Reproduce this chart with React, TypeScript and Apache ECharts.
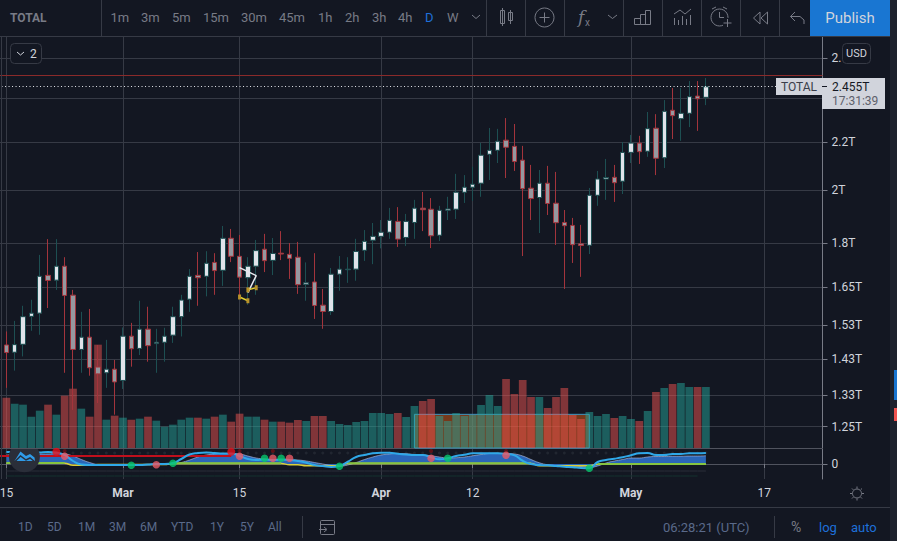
import React, { useEffect, useRef } from "react";
import * as echarts from "echarts";

// trading days on the axis, Feb 14 to May 24 2021
const monthDays: Array<[string, number, number]> = [["Feb", 14, 28], ["Mar", 1, 31], ["Apr", 1, 30], ["May", 1, 24]];
const categories: string[] = [];
monthDays.forEach(([m, from, to]) => {
  for (let d = from; d <= to; d++) categories.push(`${m} ${d}`);
});
const tickDates: Record<string, string> = {
  "Feb 15": "15", "Mar 1": "Mar", "Mar 15": "15", "Apr 1": "Apr", "Apr 12": "12", "May 1": "May", "May 17": "17",
};

// total market cap candles from Feb 15, in trillions
const opens = [
  1.470, 1.449, 1.472, 1.556, 1.566, 1.688, 1.672, 1.719, 1.623, 1.457, 1.493, 1.407, 1.391, 1.401, 1.370, 1.496, 1.460,
  1.517, 1.474, 1.478, 1.499, 1.555, 1.610, 1.688, 1.685, 1.732, 1.705, 1.817, 1.753, 1.680, 1.719, 1.778, 1.739, 1.764,
  1.760, 1.750, 1.658, 1.666, 1.591, 1.571, 1.692, 1.707, 1.709, 1.774, 1.810, 1.824, 1.839, 1.879, 1.820, 1.875, 1.929,
  1.925, 1.828, 1.921, 1.925, 1.991, 2.011, 2.027, 2.147, 2.164, 2.208, 2.181, 2.122, 2.007, 1.970, 2.027, 1.948, 1.875,
  1.864, 1.797, 1.792, 1.979, 2.044, 2.051, 2.035, 2.155, 2.195, 2.160, 2.261, 2.132, 2.343, 2.304, 2.329, 2.410, 2.404,
];
const closes = [
  1.448, 1.471, 1.555, 1.566, 1.685, 1.671, 1.719, 1.622, 1.457, 1.493, 1.405, 1.388, 1.401, 1.366, 1.496, 1.459, 1.517,
  1.468, 1.478, 1.496, 1.555, 1.607, 1.685, 1.680, 1.729, 1.704, 1.817, 1.753, 1.682, 1.719, 1.773, 1.738, 1.763, 1.761,
  1.746, 1.657, 1.663, 1.590, 1.571, 1.692, 1.709, 1.709, 1.770, 1.806, 1.824, 1.839, 1.883, 1.814, 1.879, 1.929, 1.923,
  1.826, 1.921, 1.926, 1.991, 2.011, 2.023, 2.143, 2.164, 2.203, 2.177, 2.116, 2.005, 1.966, 2.027, 1.947, 1.874, 1.863,
  1.794, 1.791, 1.979, 2.044, 2.050, 2.029, 2.155, 2.195, 2.158, 2.259, 2.130, 2.338, 2.318, 2.329, 2.407, 2.397, 2.455,
];
const lows = [
  1.350, 1.397, 1.437, 1.512, 1.500, 1.582, 1.640, 1.391, 1.292, 1.391, 1.383, 1.310, 1.350, 1.280, 1.347, 1.408, 1.441,
  1.422, 1.391, 1.422, 1.476, 1.495, 1.570, 1.589, 1.619, 1.624, 1.653, 1.733, 1.614, 1.592, 1.624, 1.699, 1.689, 1.740,
  1.676, 1.627, 1.605, 1.548, 1.518, 1.560, 1.637, 1.663, 1.670, 1.737, 1.726, 1.781, 1.815, 1.786, 1.789, 1.815, 1.843,
  1.782, 1.807, 1.884, 1.888, 1.949, 1.957, 1.973, 2.040, 2.110, 2.048, 2.077, 1.754, 1.884, 1.836, 1.903, 1.793, 1.643,
  1.730, 1.683, 1.761, 1.938, 1.961, 1.953, 1.984, 2.110, 2.106, 2.136, 2.060, 2.089, 2.213, 2.205, 2.266, 2.249, 2.367,
];
const highs = [
  1.510, 1.542, 1.589, 1.608, 1.758, 1.814, 1.814, 1.750, 1.640, 1.570, 1.579, 1.470, 1.485, 1.427, 1.522, 1.536, 1.605,
  1.586, 1.518, 1.521, 1.586, 1.624, 1.709, 1.768, 1.771, 1.764, 1.862, 1.851, 1.829, 1.750, 1.811, 1.833, 1.818, 1.843,
  1.800, 1.804, 1.732, 1.764, 1.643, 1.713, 1.754, 1.750, 1.815, 1.847, 1.873, 1.884, 1.930, 1.933, 1.907, 1.961, 1.992,
  1.968, 1.938, 1.973, 2.065, 2.060, 2.094, 2.196, 2.262, 2.258, 2.307, 2.280, 2.183, 2.102, 2.081, 2.098, 2.073, 1.922,
  1.892, 1.866, 2.008, 2.077, 2.127, 2.102, 2.200, 2.231, 2.227, 2.335, 2.325, 2.391, 2.449, 2.449, 2.483, 2.483, 2.498,
];
// volume, in billions
const volumes = [
  151, 133, 130, 94, 112, 130, 100, 157, 178, 118, 94, 310, 85, 97, 91, 85, 88, 94, 82, 64, 70, 85, 91, 91, 88, 94, 100, 79,
  103, 94, 94, 85, 79, 79, 76, 84, 81, 96, 96, 81, 72, 69, 78, 81, 105, 105, 102, 105, 93, 126, 141, 147, 96, 81, 105, 96,
  99, 129, 159, 126, 207, 162, 204, 153, 153, 120, 153, 180, 99, 87, 108, 96, 102, 90, 96, 87, 81, 111, 168, 180, 192, 195,
  183, 183, 183,
];
// oscillator pane
const fastWave = [
  48, 48, 44, 44, 46, 48, 46, 36, 12, -2, -4, -4, -4, -4, -4, -4, -4, -2, 0, 0, 4, 20, 38, 44, 46, 44, 42, 42, 32, 20, 16, 18,
  16, 18, 16, 12, 5, -4, -8, -12, -8, 9, 28, 36, 43, 45, 45, 41, 38, 36, 36, 27, 19, 23, 32, 37, 43, 43, 43, 43, 40, 35, 13, 0,
  -4, -5, -8, -11, -13, -16, -17, 8, 16, 21, 27, 35, 43, 44, 36, 36, 40, 40, 43, 43, 44,
];
const slowWave = [
  36, 38, 40, 40, 40, 40, 42, 40, 32, 18, 6, -2, -4, -4, -4, -4, -4, -3, -2, -1, 0, 6, 16, 28, 36, 40, 42, 42, 40, 32, 24, 20,
  18, 17, 17, 16, 12, 6, 0, -6, -9, -4, 6, 18, 28, 36, 40, 42, 41, 38, 36, 33, 28, 24, 25, 28, 33, 38, 42, 43, 42, 40, 32, 18,
  5, -3, -6, -8, -10, -12, -14, -8, 4, 12, 18, 24, 24, 28, 30, 30, 31, 31, 32, 32, 33,
];
const moneyFlow = [
  4, 4, 4, 4, 4, 4, 4, 4, -4, -4, -4, -1, -1, -1, -1, -1, -1, -1, -1, -1, 3, 3, 3, 3, 3, 3, 3, 3, 3, 3, 3, 3, 3, 3, -2, -2, -6,
  -6, -6, -6, -6, 3, 3, 3, 3, 3, 3, 3, 3, 3, 3, 3, 3, 3, 3, 3, 3, 3, 3, 3, 3, 3, 3, 3, -6, -6, -6, -6, -6, -6, -6, 0, 0, 0, 0,
  0, 0, 0, 0, 0, 0, 0, 0, 0, 0,
];
const redDots: Array<[string, number]> = [["Feb 21", 49], ["Mar 14", 49]];
const darkRedDots: Array<[string, number]> = [["Feb 22", 52], ["Mar 15", 52], ["Mar 19", 52], ["Apr 7", 52], ["Apr 16", 52]];
const pinkDots: Array<[string, number]> = [
  ["Feb 22", 31], ["Mar 5", -3], ["Mar 15", 31], ["Mar 19", 23], ["Mar 21", 23], ["Apr 7", 23], ["Apr 16", 35],
];
const greenDots: Array<[string, number]> = [
  ["Mar 2", -5], ["Mar 7", 3], ["Mar 18", 23], ["Mar 20", 23], ["Mar 27", -9], ["Apr 9", 23], ["Apr 26", -17],
];

const priceTicks = [2.6, 2.4, 2.2, 2, 1.8, 1.65, 1.53, 1.43, 1.33, 1.25];
// the top two are covered by the USD badge and the price tag in the picture
const priceTickLabels = ["2.", "", "2.2T", "2T", "1.8T", "1.65T", "1.53T", "1.43T", "1.33T", "1.25T"];
const priceMin = 1.198;
const priceMax = 2.71;
const lastPrice = 2.455;
const highLine = 2.503;

// the drawn box on the volume bars: from, to, top
const volumeBox = [["Apr 5", "Apr 26", 101]];
// hand drawn marks on the chart
const whiteMark: Array<[string, number]> = [["Mar 15", 1.714], ["Mar 17", 1.687], ["Mar 16", 1.631]];
const yellowMarkA: Array<[string, number]> = [["Mar 15", 1.617], ["Mar 16", 1.605]];
const yellowMarkB: Array<[string, number]> = [["Mar 16", 1.64], ["Mar 17", 1.647]];

const timeframes: Array<[string, number]> = [
  ["1m", 110.5], ["3m", 141], ["5m", 172], ["15m", 203], ["30m", 241], ["45m", 279], ["1h", 318], ["2h", 345], ["3h", 372], ["4h", 398],
];
const ranges: Array<[string, number]> = [
  ["1D", 18], ["5D", 47], ["1M", 78], ["3M", 109], ["6M", 140], ["YTD", 171], ["1Y", 210], ["5Y", 240], ["All", 268],
];

const BG = "#131722";
const GRID = "#363a45";
const TEXT = "#d1d4dc";
const MUTED = "#787b86";
const BLUE = "#1e6fd9";
const FONT = "Roboto, sans-serif";

// round logo cut off by the pane's top edge
echarts.graphic.registerShape(
  "logoDisc",
  echarts.graphic.extendPath("M10.95 449 A15.5 15.5 0 1 0 37.85 449 Z", {}) as any
);

const text = (t: string, x: number, y: number, fill = MUTED, size = 13, extra: any = {}) => ({
  type: "text",
  x,
  y,
  z: 100,
  style: { text: t, fill, fontFamily: FONT, fontSize: size, verticalAlign: "middle", align: "left", ...extra },
});
const line = (x1: number, y1: number, x2: number, y2: number, stroke = GRID, lineWidth = 1) => ({
  type: "line",
  z: 100,
  shape: { x1, y1, x2, y2 },
  style: { stroke, lineWidth },
});
const poly = (points: number[][], stroke = MUTED, lineWidth = 1) => ({
  type: "polyline",
  z: 100,
  shape: { points },
  style: { stroke, lineWidth, fill: "none" },
});
const rect = (x: number, y: number, width: number, height: number, style: any, r = 0) => ({
  type: "rect",
  z: 100,
  shape: { x, y, width, height, r },
  style,
});
const ring = (cx: number, cy: number, r: number, stroke = MUTED) => ({
  type: "circle",
  z: 100,
  shape: { cx, cy, r },
  style: { stroke, fill: "none", lineWidth: 1 },
});

const buildGraphics = () => {
  const sun = [[0, -7, 0, -5], [0, 5, 0, 7], [-7, 0, -5, 0], [5, 0, 7, 0], [-5, -5, -3.6, -3.6], [5, -5, 3.6, -3.6], [-5, 5, -3.6, 3.6], [5, 5, 3.6, 3.6]];
  return [
    // frame lines
    line(0, 36.5, 890, 36.5),
    line(0, 507.5, 890, 507.5),
    line(1.5, 37, 1.5, 479),
    line(101.5, 0, 101.5, 36),
    ...[486, 525, 564, 623, 662, 701, 740, 779].map((x) => line(x + 0.5, 0, x + 0.5, 36)),
    rect(890, 0, 7, 541, { fill: "#1e222d" }),
    rect(894, 370, 3, 30, { fill: "#1976d2" }),
    rect(894, 408, 3, 13, { fill: "#ef5350" }),
    // top bar
    text("TOTAL", 10, 17.5, MUTED, 12, { fontWeight: "bold" }),
    ...timeframes.map(([t, x]) => text(t, x, 17.5)),
    text("D", 425, 17.5, BLUE),
    text("W", 447, 17.5),
    poly([[472, 15], [476, 18.5], [480, 15]]),
    poly([[608, 15], [612.5, 18.5], [617, 15]]),
    // candle icon
    rect(500.5, 10.5, 4, 13, { stroke: MUTED, fill: "none" }),
    line(502.5, 8, 502.5, 26, MUTED),
    rect(508.5, 12.5, 4, 8, { stroke: MUTED, fill: "none" }),
    line(510.5, 10, 510.5, 24, MUTED),
    // add icon
    ring(544.5, 17.5, 9.5),
    line(544.5, 12.5, 544.5, 22.5, MUTED),
    line(539.5, 17.5, 549.5, 17.5, MUTED),
    // indicators icon
    text("f", 578, 17, MUTED, 17, { fontStyle: "italic", fontFamily: "DejaVu Serif" }),
    text("x", 585, 22, MUTED, 10),
    // bars icon
    poly([[634.5, 24.5], [634.5, 18.5], [640.5, 18.5], [640.5, 24.5], [634.5, 24.5]]),
    poly([[640.5, 24.5], [640.5, 14.5], [645.5, 14.5], [645.5, 24.5]]),
    poly([[645.5, 24.5], [645.5, 10.5], [650.5, 10.5], [650.5, 24.5], [640.5, 24.5]]),
    // compare icon
    poly([[674, 14], [680, 10], [685, 14], [691, 9]]),
    ...[[674.5, 18], [678.5, 20], [682.5, 16], [686.5, 19], [690.5, 15]].map(([x, y]) => line(x, y, x, 25, MUTED)),
    // alarm icon
    ring(719.5, 17.5, 8.5),
    poly([[719.5, 12], [719.5, 17.5], [724, 17.5]]),
    poly([[712, 9], [716, 7]]),
    poly([[727, 9], [723, 7]]),
    rect(723, 18, 10, 10, { fill: BG }),
    line(727.5, 19, 727.5, 27, MUTED),
    line(723.5, 23, 731.5, 23, MUTED),
    // rewind icon
    poly([[760, 12], [753.5, 18], [760, 24], [760, 12]]),
    poly([[767.5, 12], [761, 18], [767.5, 24], [767.5, 12]]),
    // undo icon
    poly([[795, 12], [790.5, 16.5], [795, 21]]),
    poly([[790.5, 16.5], [800, 16.5], [804, 20], [804, 24]]),
    // publish button
    rect(810, 0, 80, 36, { fill: "#1976d2" }),
    text("Publish", 850, 17.5, TEXT, 15, { align: "center" }),
    // pane controls
    rect(10.5, 43.5, 31, 20, { fill: BG, stroke: GRID }, 4),
    poly([[17, 52], [20.5, 55], [24, 52]], TEXT),
    text("2", 30, 53.5, TEXT, 12),
    rect(842.5, 43.5, 28, 20, { fill: BG, stroke: GRID }, 4),
    text("USD", 856.5, 53.5, TEXT, 11, { align: "center" }),
    // last price tags
    rect(776, 78, 46, 17, { fill: "#d1d4dc" }),
    text("TOTAL", 781, 87, "#3a3e4a", 12),
    rect(822, 78, 63, 31, { fill: "#d1d4dc" }),
    line(822, 86.5, 827, 86.5, "#131722"),
    text("2.455T", 832, 87, "#131722", 12),
    text("17:31:39", 832, 101, "#5d606b", 12),
    // indicator logo
    { type: "logoDisc", x: 0, y: 0, z: 99, style: { fill: "#2a2e39" } },
    {
      type: "polygon",
      z: 100,
      shape: { points: [[14.5, 461], [20.5, 451.5], [26, 456], [30, 454], [34.5, 457.5], [35, 461]] },
      style: { fill: "#2f9be8" },
    },
    poly([[15, 461.5], [20.5, 456], [26, 460], [30, 458], [34.5, 461.5]], "#2a2e39", 1.5),
    // bottom bar
    ...ranges.map(([t, x]) => text(t, x, 527, "#5a6a8a", 12)),
    line(302.5, 516, 302.5, 538),
    rect(320.5, 520.5, 14, 14, { stroke: MUTED, fill: "none" }, 1),
    line(320, 524.5, 335, 524.5, MUTED),
    poly([[319, 529.5], [326, 529.5]], MUTED),
    poly([[324, 527], [327, 529.5], [324, 532]], MUTED),
    text("06:28:21 (UTC)", 663, 527, "#5a6a8a", 13),
    line(774.5, 516, 774.5, 538),
    text("%", 791, 527, MUTED, 14),
    text("log", 819, 527, BLUE, 13),
    text("auto", 851, 527, BLUE, 13),
    // settings sun
    ring(857, 493.5, 4.5),
    ...sun.map(([a, b, c, d]) => line(857 + a, 493.5 + b, 857 + c, 493.5 + d, MUTED)),
  ];
};

const App = () => {
  const chartRef = useRef<HTMLDivElement>(null);

  useEffect(() => {
    if (!chartRef.current) return;
    const chart = echarts.init(chartRef.current, undefined, { renderer: "svg" });

    const candleDays = categories.slice(1, opens.length + 1);
    const isTick = (_i: number, v: string) => v in tickDates;
    const ticks = priceTicks.map((p) => Math.log(p));

    const pts = (values: Array<number | string>) => values.map((v, i) => [candleDays[i], v]);
    const option: any = {
      animation: false,
      backgroundColor: BG,
      grid: [
        { left: -1.94, width: 824.44, top: 37, height: 411, outerBoundsMode: "none" },
        { left: -1.94, width: 824.44, top: 449, height: 30, outerBoundsMode: "none" },
      ],
      xAxis: [
        {
          type: "category",
          data: categories,
          boundaryGap: false,
          gridIndex: 0,
          axisLine: { lineStyle: { color: "#50535e" } },
          axisTick: { show: false },
          axisLabel: { show: false },
          splitLine: { show: true, interval: isTick, lineStyle: { color: GRID } },
        },
        {
          type: "category",
          data: categories,
          boundaryGap: false,
          gridIndex: 1,
          axisLine: { lineStyle: { color: "#50535e" } },
          axisTick: { show: true, interval: isTick, length: 4, lineStyle: { color: "#787b86" } },
          axisLabel: {
            interval: isTick,
            hideOverlap: false,
            margin: 8,
            color: TEXT,
            fontFamily: FONT,
            fontSize: 12,
            formatter: (v: string) => {
              const t = tickDates[v];
              return /[A-Z]/.test(t) ? `{b|${t}}` : t;
            },
            rich: { b: { fontWeight: "bold", color: TEXT, fontFamily: FONT, fontSize: 12 } },
          },
          splitLine: { show: true, interval: isTick, lineStyle: { color: GRID } },
        },
      ],
      yAxis: [
        {
          type: "value",
          gridIndex: 0,
          position: "right",
          min: Math.log(priceMin),
          max: Math.log(priceMax),
          axisLine: { show: true, lineStyle: { color: MUTED } },
          axisTick: { show: true, customValues: ticks, length: 5, lineStyle: { color: MUTED } },
          axisLabel: {
            customValues: ticks,
            margin: 9,
            color: TEXT,
            fontFamily: FONT,
            fontSize: 12,
            formatter: (v: number) => {
              const k = ticks.findIndex((t) => Math.abs(t - v) < 1e-6);
              return k >= 0 ? priceTickLabels[k] : "";
            },
          },
          splitLine: { show: true, lineStyle: { color: GRID } },
        },
        { type: "value", gridIndex: 0, min: 0, max: 1233, show: false, splitLine: { show: false } },
        {
          type: "value",
          gridIndex: 1,
          position: "right",
          min: -60,
          max: 60,
          axisLine: { show: true, lineStyle: { color: MUTED } },
          axisTick: { show: true, customValues: [0], length: 5, lineStyle: { color: MUTED } },
          axisLabel: { customValues: [0], margin: 9, color: TEXT, fontFamily: FONT, fontSize: 12 },
          splitLine: { show: true, lineStyle: { color: GRID } },
        },
      ],
      series: [
        {
          type: "custom",
          xAxisIndex: 0,
          yAxisIndex: 1,
          z: 1,
          data: volumeBox,
          encode: { x: [0, 1], y: 2 },
          renderItem: (_p: any, api: any) => {
            const a = api.coord([api.value(0), api.value(2)]);
            const b = api.coord([api.value(1), 0]);
            return {
              type: "rect",
              shape: { x: a[0], y: a[1], width: b[0] - a[0], height: b[1] - a[1] },
              style: { fill: "rgba(255,105,20,0.42)", stroke: "#3b97c4", lineWidth: 1 },
            };
          },
        },
        {
          type: "bar",
          xAxisIndex: 0,
          yAxisIndex: 1,
          z: 2,
          barWidth: 7.7,
          data: volumes.map((v, i) => ({
            value: [candleDays[i], v],
            itemStyle: { color: closes[i] >= opens[i] ? "rgba(38,166,154,0.5)" : "rgba(239,83,80,0.5)" },
          })),
        },
        {
          type: "candlestick",
          xAxisIndex: 0,
          yAxisIndex: 0,
          z: 3,
          barWidth: 5,
          encode: { x: 0, y: [1, 2, 3, 4] },
          itemStyle: {
            color: "#dfe3ea",
            color0: "#96989f",
            borderColor: "#1d4f52",
            borderColor0: "#a3343c",
            borderWidth: 1,
          },
          data: opens.map((o, i) => [
            candleDays[i],
            Math.log(o),
            Math.log(closes[i]),
            Math.log(lows[i]),
            Math.log(highs[i]),
          ]),
          markLine: {
            silent: true,
            symbol: "none",
            label: { show: false },
            data: [
              { yAxis: Math.log(lastPrice), lineStyle: { color: "#e6e8ee", type: [1, 2.5], width: 1 } },
              { yAxis: Math.log(highLine), lineStyle: { color: "#8a2a2a", type: "solid", width: 1 } },
            ],
          },
        },
        {
          type: "line",
          xAxisIndex: 0,
          yAxisIndex: 0,
          z: 4,
          symbol: "none",
          lineStyle: { color: "#e6e8ee", width: 1.5 },
          data: whiteMark.map(([d, p]) => [d, Math.log(p)]),
        },
        ...[yellowMarkA, yellowMarkB].map((mark) => ({
          type: "line",
          xAxisIndex: 0,
          yAxisIndex: 0,
          z: 4,
          symbol: "rect",
          symbolSize: [3, 5],
          itemStyle: { color: "#b8922a" },
          lineStyle: { color: "#dfd02f", width: 1.5 },
          data: mark.map(([d, p]) => [d, Math.log(p)]),
        })),
        // oscillator pane
        {
          type: "scatter",
          xAxisIndex: 1,
          yAxisIndex: 2,
          z: 2,
          symbolSize: 3,
          itemStyle: { color: "#262a35" },
          data: candleDays.map((d) => [d, 44]),
        },
        {
          type: "line",
          xAxisIndex: 1,
          yAxisIndex: 2,
          z: 2,
          symbol: "none",
          lineStyle: { color: "#2a2e39", width: 1 },
          data: candleDays.map((d) => [d, -28]),
        },
        {
          type: "line",
          xAxisIndex: 1,
          yAxisIndex: 2,
          z: 2,
          symbol: "none",
          lineStyle: { color: "#14332e", width: 1 },
          data: candleDays.slice(0, 84).map((d) => [d, -48]),
        },
        {
          type: "line",
          xAxisIndex: 1,
          yAxisIndex: 2,
          z: 3,
          symbol: "none",
          smooth: true,
          lineStyle: { color: "rgba(200,204,232,0.55)", width: 1 },
          areaStyle: { color: "#2a66b8", opacity: 1, origin: 0 },
          data: pts(slowWave),
        },
        {
          type: "line",
          xAxisIndex: 1,
          yAxisIndex: 2,
          z: 4,
          symbol: "none",
          smooth: true,
          lineStyle: { color: "#d9cf3a", width: 1.5 },
          data: pts(moneyFlow.map((v) => v - 1)),
        },
        {
          // the flow line only turns green above zero
          type: "line",
          xAxisIndex: 1,
          yAxisIndex: 2,
          z: 4,
          symbol: "none",
          smooth: true,
          lineStyle: { color: "#86c440", width: 2 },
          data: pts(moneyFlow.map((v) => (v < 0 ? "-" : v))),
        },
        {
          type: "line",
          xAxisIndex: 1,
          yAxisIndex: 2,
          z: 5,
          symbol: "none",
          lineStyle: { color: "#c00f1c", width: 2 },
          data: categories.slice(0, 29).map((d) => [d, 32]),
        },
        {
          type: "line",
          xAxisIndex: 1,
          yAxisIndex: 2,
          z: 6,
          symbol: "none",
          smooth: true,
          lineStyle: { color: "#2fa8e8", width: 2 },
          data: pts(fastWave),
        },
        ...[
          [darkRedDots, "#6b0f14", 4],
          [redDots, "#e6101a", 8],
          [pinkDots, "#e85a66", 7.5],
          [greenDots, "#08c66e", 7.5],
        ].map(([data, color, size]) => ({
          type: "scatter",
          xAxisIndex: 1,
          yAxisIndex: 2,
          z: 7,
          symbolSize: size,
          itemStyle: { color },
          data,
        })),
      ],
      graphic: buildGraphics(),
    };

    chart.setOption(option);
    return () => {
      chart.dispose();
    };
  }, []);

  return <div ref={chartRef} style={{ position: "absolute", left: 0, top: 0, width: 897, height: 541 }} />;
};

export default App;
